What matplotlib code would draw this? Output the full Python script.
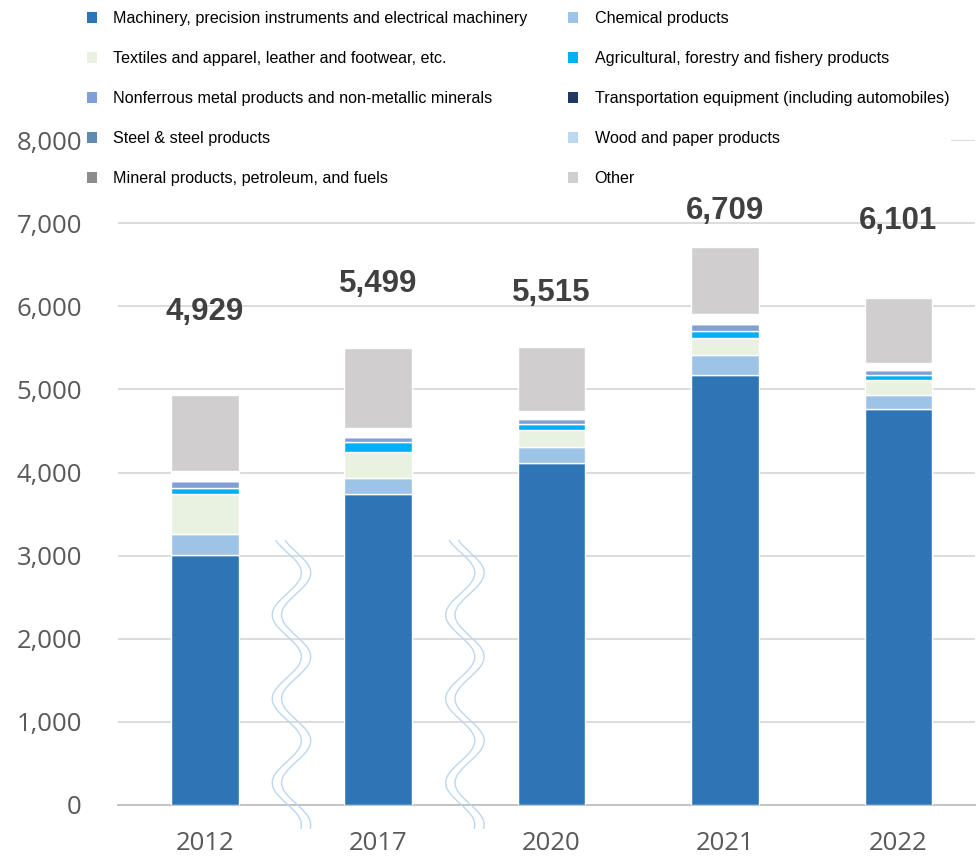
import numpy as np
import matplotlib.pyplot as plt
from matplotlib.patches import Patch

# data
years = ["2012", "2017", "2020", "2021", "2022"]
totals = [4929, 5499, 5515, 6709, 6101]

machinery = [3010, 3740, 4110, 5175, 4760]
chemical = [245, 195, 198, 234, 168]
textiles = [490, 313, 199, 207, 186]
agricultural = [70, 120, 78, 90, 60]
nonferrous = [78, 60, 64, 82, 57]
transport = [3, 3, 3, 3, 3]
steel = [60, 52, 45, 55, 40]
wood = [15, 10, 10, 10, 8]
mineral = [50, 48, 38, 49, 40]
other = [t - (a + b + c + d + e + f + g + h + i) for t, a, b, c, d, e, f, g, h, i in
         zip(totals, machinery, chemical, textiles, agricultural, nonferrous,
             transport, steel, wood, mineral)]

series = [
    ("Machinery, precision instruments and electrical machinery", machinery, "#2E75B6", "#2E75B6"),
    ("Chemical products", chemical, "#9DC3E6", "#9DC3E6"),
    ("Textiles and apparel, leather and footwear, etc.", textiles, "#E9F2E1", "#E9F2E1"),
    ("Agricultural, forestry and fishery products", agricultural, "#00B0F0", "#00B0F0"),
    ("Nonferrous metal products and non-metallic minerals", nonferrous, "#7F9FD6", "#7F9FD6"),
    ("Transportation equipment (including automobiles)", transport, "#1F3864", "#1F3864"),
    ("Steel & steel products", steel, "#FFFFFF", "#5F8AB4"),
    ("Wood and paper products", wood, "#D3E4F4", "#BDD7EE"),
    ("Mineral products, petroleum, and fuels", mineral, "#FFFFFF", "#8C8C8C"),
    ("Other", other, "#D0CECE", "#D0CECE"),
]

# manual label offsets above bar tops
label_offset = [1000, 770, 640, 440, 920]

fig = plt.figure(figsize=(9.78, 8.56), dpi=100)
ax = fig.add_axes([0.1207, 0.0596, 0.876, 0.7768])

x = np.arange(len(years))
bottom = np.zeros(len(years))
for name, vals, fc, lc in series:
    ax.bar(x, vals, 0.39, bottom=bottom, color=fc, edgecolor="white",
           linewidth=1.0, zorder=3)
    bottom += np.array(vals)

for i, t in enumerate(totals):
    ax.text(x[i], t + label_offset[i], f"{t:,}", ha="center", va="center",
            fontsize=22.5, fontweight="bold", color="#404040",
            family="Liberation Sans")

# wavy break marks between 2012/2017 and 2017/2020
yy = np.linspace(3180, -280, 300)
for xc in [0.5, 1.5]:
    for off in [-0.027, 0.027]:
        xx = xc + off + 0.084 * np.sin(2 * np.pi * (3045 - yy) / 1010)
        ax.plot(xx, yy, color="#BDD7EE", lw=1.0, clip_on=False, zorder=4)

ax.set_xlim(-0.5, 4.44)
ax.set_ylim(0, 8000)
ax.set_yticks(range(0, 8001, 1000))
ax.set_yticklabels([f"{v:,}" for v in range(0, 8001, 1000)])
ax.set_xticks(x)
ax.set_xticklabels(years)
ax.grid(axis="y", color="#D9D9D9", lw=1.3, zorder=0)
ax.set_axisbelow(True)
for s in ["top", "right", "left"]:
    ax.spines[s].set_visible(False)
ax.spines["bottom"].set_color("#BFBFBF")
ax.spines["bottom"].set_linewidth(1.3)
ax.tick_params(axis="both", length=0, labelsize=18.5, labelcolor="#595959")
ax.tick_params(axis="y", pad=26)
ax.tick_params(axis="x", pad=19)
for lab in ax.get_xticklabels() + ax.get_yticklabels():
    lab.set_family("Open Sans")

# legend: left column then right column
order = [0, 2, 4, 6, 8, 1, 3, 5, 7, 9]
handles = [Patch(facecolor=series[k][3], edgecolor="none") for k in order]
labels = [series[k][0] for k in order]
leg = fig.legend(handles, labels, ncol=2, loc="upper left",
                 bbox_to_anchor=(0.087, 0.989), frameon=True,
                 prop={"family": "Liberation Sans", "size": 11.6},
                 handlelength=0.65, handleheight=0.65, handletextpad=1.0,
                 labelspacing=1.55, columnspacing=2.5, borderpad=0.1,
                 borderaxespad=0)
leg.get_frame().set_facecolor("white")
leg.get_frame().set_edgecolor("none")
leg.get_frame().set_alpha(1.0)

fig.savefig("out.png", dpi=100)
